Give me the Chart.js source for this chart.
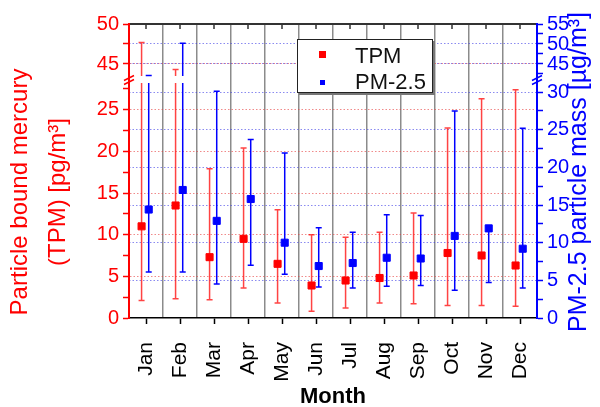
<!DOCTYPE html>
<html>
<head>
<meta charset="utf-8">
<script src="https://cdn.jsdelivr.net/npm/chart.js@4.4.0/dist/chart.umd.min.js"></script>
<style>
  body { margin: 0; background: #fff; }
  #wrap { position: relative; width: 600px; height: 407px; font-family: 'Liberation Sans', Arial, sans-serif; }
  #legend { position: absolute; left: 297px; top: 39px; width: 134px; height: 52px; border: 1.5px solid #222; box-shadow: 2px 2px 0 #777; background: #fff; }
  #legend .txt { position: absolute; left: 57px; font-size: 22px; line-height: 22px; color: #111; }
  #legend .sw { position: absolute; }
</style>
</head>
<body>
<div id="wrap">
  <canvas id="chart" width="600" height="407"></canvas>
  <div id="legend">
    <span class="sw" style="left:21px; top:11px; width:7px; height:7px; background:#ff0000"></span>
    <span class="txt" style="top:5px">TPM</span>
    <span class="sw" style="left:22px; top:40px; width:5px; height:5px; background:#0000ff"></span>
    <span class="txt" style="top:31px">PM-2.5</span>
  </div>
</div>
<script>
const FONT = "'Liberation Sans', Arial, sans-serif";
const RED = '#ff0000';
const BLUE = '#0000ff';

// monthly values
const months = ['Jan', 'Feb', 'Mar', 'Apr', 'May', 'Jun', 'Jul', 'Aug', 'Sep', 'Oct', 'Nov', 'Dec'];
const tpmMean = [11.0, 13.5, 7.3, 9.5, 6.5, 3.9, 4.5, 4.8, 5.1, 7.8, 7.5, 6.3];
const tpmLow  = [2.1, 2.3, 2.2, 3.6, 1.8, 0.8, 1.2, 1.8, 1.7, 1.5, 1.5, 1.4];
const tpmHigh = [47.7, 44.3, 17.9, 20.4, 13.0, 10.0, 9.7, 10.3, 12.6, 22.8, 26.3, 27.4];
const pmMean  = [14.4, 17.0, 12.9, 15.8, 10.0, 6.9, 7.3, 8.0, 7.9, 10.9, 11.9, 9.2];
const pmLow   = [6.1, 6.1, 4.5, 7.0, 5.8, 4.1, 4.0, 4.2, 4.3, 3.7, 4.7, 4.0];
const pmHigh  = [42.1, 50.2, 30.1, 23.7, 21.9, 12.0, 11.4, 13.7, 13.6, 27.5, 12.1, 25.2];

// tick values of the broken axes
const leftLowTicks   = [0, 2.5, 5, 7.5, 10, 12.5, 15, 17.5, 20, 22.5, 25, 27.5];
const leftHighTicks  = [45, 47.5, 50];
const rightLowTicks  = [0, 2.5, 5, 7.5, 10, 12.5, 15, 17.5, 20, 22.5, 25, 27.5, 30];
const rightHighTicks = [42.5, 45, 47.5, 50, 52.5, 55];

const tpmShift = -0.13; // side-by-side offset inside a month
const pmShift = 0.08;
const GAP = 3.5;

function sideAxis(position, min, max, tickValues, color, gridColor, stackWeight, weight) {
  return {
    type: 'linear', position, min, max,
    stack: position, stackWeight, weight,
    afterBuildTicks: s => { s.ticks = tickValues.map(v => ({ value: v })); },
    afterFit: s => { s.width = position === 'left' ? 129 : 63; },
    ticks: {
      color, autoSkip: false, padding: 4,
      font: { family: FONT, size: 20 },
      callback: v => (v % 5 === 0 ? String(v) : '')
    },
    grid: {
      color: c => (c.tick && c.tick.value % 5 === 0 && c.tick.value > min && c.tick.value < max) ? gridColor : 'rgba(0,0,0,0)',
      lineWidth: 1, tickLength: 6, tickColor: color, tickWidth: 1.5
    },
    border: { color, width: 2, dash: [1.5, 2] }
  };
}

function drawBars(chart, side, lows, highs, shift, color) {
  const ctx = chart.ctx;
  const x = chart.scales.x;
  const lo = chart.scales[side + 'Lo'];
  const hi = chart.scales[side + 'Hi'];
  const yOf = v => (v <= lo.max ? lo.getPixelForValue(v) : hi.getPixelForValue(v));
  ctx.save();
  ctx.strokeStyle = color;
  ctx.lineWidth = 1.5;
  lows.forEach((low, i) => {
    const px = x.getPixelForValue(i + 1 + shift);
    const y1 = yOf(low);
    const y2 = yOf(highs[i]);
    ctx.beginPath();
    if (highs[i] > lo.max) {
      ctx.moveTo(px, y1); ctx.lineTo(px, lo.top + GAP);
      if (y2 < lo.top - GAP) { ctx.moveTo(px, lo.top - GAP); ctx.lineTo(px, y2); }
    } else {
      ctx.moveTo(px, y1); ctx.lineTo(px, y2);
    }
    ctx.moveTo(px - 3, y1); ctx.lineTo(px + 3, y1);
    ctx.moveTo(px - 3, y2); ctx.lineTo(px + 3, y2);
    ctx.stroke();
  });
  ctx.restore();
}

function breakMark(ctx, ax, yb, color) {
  ctx.save();
  ctx.strokeStyle = color;
  ctx.lineWidth = 1.5;
  ctx.beginPath();
  ctx.moveTo(ax - 5, yb + 1); ctx.lineTo(ax + 5, yb - 4);
  ctx.moveTo(ax - 5, yb + 5); ctx.lineTo(ax + 5, yb);
  ctx.stroke();
  ctx.restore();
}

const errorBars = {
  id: 'errorBars',
  beforeDatasetsDraw(chart) {
    drawBars(chart, 'yLeft', tpmLow, tpmHigh, tpmShift, 'rgba(255,20,20,0.8)');
    drawBars(chart, 'yRight', pmLow, pmHigh, pmShift, BLUE);
  },
  afterDraw(chart) {
    const ctx = chart.ctx;
    const area = chart.chartArea;
    breakMark(ctx, area.left, chart.scales.yLeftLo.top, RED);
    breakMark(ctx, area.right, chart.scales.yRightLo.top, BLUE);

    // inward ticks on the top frame, at the month positions
    const x = chart.scales.x;
    ctx.save();
    ctx.strokeStyle = '#333';
    ctx.lineWidth = 1.5;
    ctx.beginPath();
    months.forEach((m, i) => {
      const px = x.getPixelForValue(i + 1);
      ctx.moveTo(px, area.top); ctx.lineTo(px, area.top + 5);
    });
    ctx.stroke();
    ctx.restore();

    ctx.save();
    ctx.font = '24px ' + FONT;
    ctx.fillStyle = RED;
    ctx.textAlign = 'center';
    ctx.textBaseline = 'middle';
    ctx.translate(20, 192);
    ctx.rotate(-Math.PI / 2);
    ctx.fillText('Particle bound mercury', 0, 0);
    ctx.fillText('(TPM) [pg/m³]', 0, 38);
    ctx.restore();

    ctx.save();
    ctx.font = '25px ' + FONT;
    ctx.fillStyle = BLUE;
    ctx.textAlign = 'center';
    ctx.textBaseline = 'middle';
    ctx.translate(579, 172);
    ctx.rotate(-Math.PI / 2);
    ctx.fillText('PM-2.5 particle mass [µg/m³]', 0, 0);
    ctx.restore();
  }
};

new Chart(document.getElementById('chart'), {
  type: 'scatter',
  data: {
    datasets: [
      {
        label: 'TPM',
        data: months.map((m, i) => ({ x: i + 1 + tpmShift, y: tpmMean[i] })),
        yAxisID: 'yLeftLo',
        pointStyle: 'rect', radius: 5, borderWidth: 1,
        backgroundColor: RED, borderColor: RED
      },
      {
        label: 'PM-2.5',
        data: months.map((m, i) => ({ x: i + 1 + pmShift, y: pmMean[i] })),
        yAxisID: 'yRightLo',
        pointStyle: 'rect', radius: 5, borderWidth: 1,
        backgroundColor: BLUE, borderColor: BLUE
      }
    ]
  },
  options: {
    responsive: false,
    animation: false,
    devicePixelRatio: 1,
    layout: { padding: { top: 24 } },
    plugins: { legend: { display: false }, tooltip: { enabled: false } },
    scales: {
      x: {
        type: 'linear', position: 'bottom', min: 0.5, max: 12.5,
        afterBuildTicks: s => { s.ticks = months.map((m, i) => ({ value: i + 1 })); },
        afterFit: s => { s.height = 89; },
        ticks: {
          autoSkip: false, minRotation: 90, maxRotation: 90, padding: 18,
          color: '#000', font: { family: FONT, size: 21 },
          callback: v => months[v - 1]
        },
        grid: { drawOnChartArea: false, tickLength: 6, tickColor: '#000', tickWidth: 1.5 },
        border: { color: '#000', width: 1.5 },
        title: {
          display: true, text: 'Month', color: '#000', padding: 0,
          font: { family: FONT, size: 22, weight: 'bold', lineHeight: 0.9 }
        }
      },
      xTop: {
        type: 'linear', position: 'top', min: 0.5, max: 12.5,
        afterBuildTicks: s => { s.ticks = months.slice(1).map((m, i) => ({ value: i + 1.5 })); },
        afterFit: s => { s.height = 0; },
        ticks: { display: false },
        grid: { color: 'rgba(110,110,110,0.8)', lineWidth: 1.5, drawTicks: false },
        border: { color: '#333', width: 2 }
      },
      yLeftHi: sideAxis('left', 43.06, 50, leftHighTicks, RED, 'rgba(230,60,60,0.6)', 55.5, 1),
      yLeftLo: sideAxis('left', 0, 28.62, leftLowTicks, RED, 'rgba(230,60,60,0.6)', 238.5, 0),
      yRightHi: sideAxis('right', 41.12, 55, rightHighTicks, BLUE, 'rgba(60,60,230,0.6)', 55.5, 0),
      yRightLo: sideAxis('right', 0, 31.67, rightLowTicks, BLUE, 'rgba(60,60,230,0.6)', 238.5, 1)
    }
  },
  plugins: [errorBars]
});
</script>
</body>
</html>
